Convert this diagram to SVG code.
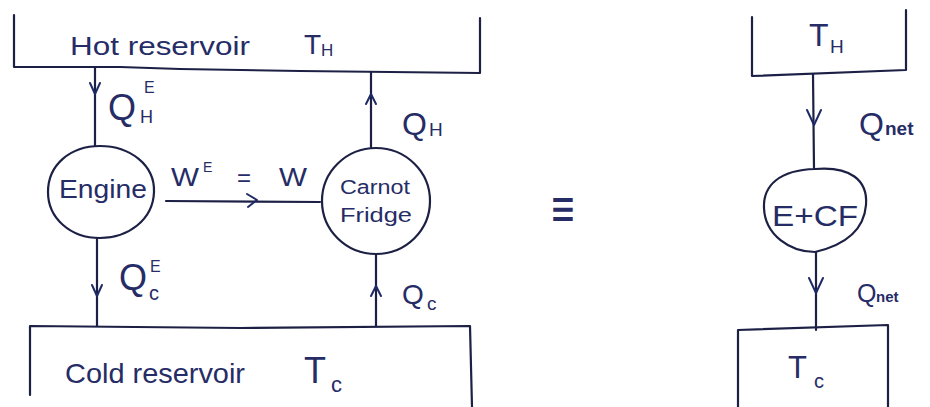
<svg xmlns="http://www.w3.org/2000/svg" width="930" height="407" viewBox="0 0 930 407">
<style>
.ln{fill:none;stroke:#1d2045;stroke-width:2.2;stroke-linecap:round;stroke-linejoin:round}
.ah{fill:none;stroke:#1d2a66;stroke-width:2;stroke-linecap:round;stroke-linejoin:round}
text{font-family:"Liberation Sans","DejaVu Sans",sans-serif;fill:#262c66}
</style>
<rect width="930" height="407" fill="#ffffff"/>
<g id="hot-reservoir">
<path class="ln" d="M14 15 L14 67 L120 67 L180 69 L300 71 L480 73 L480 18"/>
<text x="70" y="55" font-size="26" textLength="180" lengthAdjust="spacingAndGlyphs">Hot reservoir</text>
<text x="304" y="54" font-size="28">T</text><text x="321" y="56" font-size="17">H</text>
</g>
<g id="cold-reservoir">
<path class="ln" d="M30 395 L30 326 L240 328 L470 326 L472 407"/>
<text x="65" y="383" font-size="28" textLength="180" lengthAdjust="spacingAndGlyphs">Cold reservoir</text>
<text x="304" y="383" font-size="36">T</text><text x="331" y="392" font-size="22">c</text>
</g>
<g id="engine">
<path class="ln" d="M100 146 C130 146 155 165 154 192 C153 220 128 238 100 238 C70 238 48 218 48 192 C48 165 70 146 100 146 Z"/>
<text x="59" y="198" font-size="25" textLength="88" lengthAdjust="spacingAndGlyphs">Engine</text>
</g>
<g id="carnot-fridge">
<ellipse class="ln" cx="376" cy="201" rx="54" ry="53"/>
<text x="340" y="194" font-size="20" textLength="70" lengthAdjust="spacingAndGlyphs">Carnot</text>
<text x="340" y="222" font-size="20" textLength="72" lengthAdjust="spacingAndGlyphs">Fridge</text>
</g>
<g id="equiv">
<text x="563" y="0" text-anchor="middle" font-size="40" font-family="DejaVu Sans, sans-serif" fill="#1d2045" transform="translate(0 228) scale(1 1.4)">≡</text>
</g>
<g id="hot-TH">
<path class="ln" d="M752 17 L752 76 L906 70 L906 10"/>
<text x="809" y="46" font-size="32">T</text><text x="830" y="53" font-size="19">H</text>
</g>
<g id="e-cf">
<path class="ln" d="M815 169 C850 166 868 180 866 205 C864 230 845 245 815 252 C790 252 765 235 764 208 C763 185 780 170 815 169 Z"/>
<text x="772" y="226" font-size="30" textLength="86" lengthAdjust="spacingAndGlyphs">E+CF</text>
</g>
<g id="cold-TC">
<path class="ln" d="M738 407 L738 330 L888 325 L888 407"/>
<text x="788" y="378" font-size="31">T</text><text x="814" y="388" font-size="20">c</text>
</g>
<g id="connectors">
<path class="ln" d="M95 67 L95 146"/>
<polyline class="ah" points="90,83 95,94 100,83"/>
<path class="ln" d="M97 238 L97 326"/>
<polyline class="ah" points="92,285 97,296 102,285"/>
<path class="ln" d="M371 72 L371 148"/>
<polyline class="ah" points="366,104 371,94 376,104"/>
<path class="ln" d="M376 254 L376 326"/>
<polyline class="ah" points="371,296 376,286 381,296"/>
<path class="ln" d="M166 201 L320 202"/>
<polyline class="ah" points="247,194 257,200 248,207"/>
<path class="ln" d="M813 74 L814 169"/>
<polyline class="ah" points="807,110 814,125 821,110"/>
<path class="ln" d="M816 252 L816 330"/>
<polyline class="ah" points="809,278 816,293 823,278"/>
<text x="108" y="120" font-size="36">Q</text><text x="144" y="93" font-size="16">E</text><text x="140" y="123" font-size="18">H</text>
<text x="402" y="135" font-size="32">Q</text><text x="429" y="136" font-size="19">H</text>
<text x="119" y="290" font-size="36">Q</text><text x="150" y="272" font-size="16">E</text><text x="149" y="300" font-size="20">c</text>
<text x="402" y="304" font-size="28">Q</text><text x="427" y="310" font-size="19">c</text>
<text x="171" y="186" font-size="26" textLength="28" lengthAdjust="spacingAndGlyphs">W</text><text x="203" y="172" font-size="14">E</text>
<text x="237" y="186" font-size="24">=</text>
<text x="279" y="186" font-size="26" textLength="28" lengthAdjust="spacingAndGlyphs">W</text>
<text x="859" y="135" font-size="32">Q</text><text x="885" y="135" font-size="19" font-weight="bold">net</text>
<text x="857" y="302" font-size="25">Q</text><text x="876" y="302" font-size="15" font-weight="bold">net</text>
</g>
</svg>
